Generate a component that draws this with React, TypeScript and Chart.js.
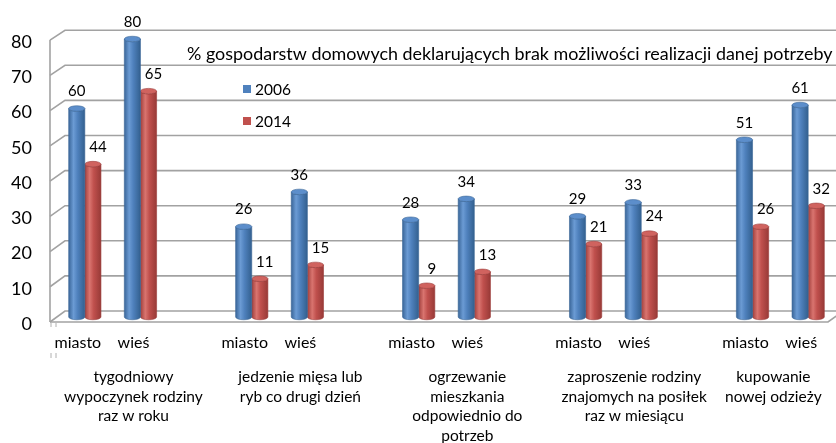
import React, { useEffect, useRef } from "react";
import { Chart, registerables } from "chart.js";

Chart.register(...registerables);

const subLabels = ["miasto", "wieś", "", "miasto", "wieś", "", "miasto", "wieś", "", "miasto", "wieś", "", "miasto", "wieś"];
const groupLabels: string[][] = [
  ["tygodniowy", "wypoczynek rodziny", "raz w roku"],
  ["jedzenie mięsa lub", "ryb co drugi dzień"],
  ["ogrzewanie", "mieszkania", "odpowiednio do", "potrzeb"],
  ["zaproszenie rodziny", "znajomych na posiłek", "raz w miesiącu"],
  ["kupowanie", "nowej odzieży"],
];
const series2006 = [60, 80, null, 26, 36, null, 28, 34, null, 29, 33, null, 51, 61];
const series2014 = [44, 65, null, 11, 15, null, 9, 13, null, 21, 24, null, 26, 32];
const yTicks = [0, 10, 20, 30, 40, 50, 60, 70, 80];
const titleText = "% gospodarstw domowych deklarujących brak możliwości realizacji danej potrzeby";

const FONT = "Lato, 'Open Sans', sans-serif";

const palettes = [
  { edge: "#3a6699", light: "#6b9bd4", mid: "#4f81bd", dark: "#33608f", top: "#5c8ecb", stroke: "#3a6697" },
  { edge: "#a03f3c", light: "#d9746f", mid: "#c0504d", dark: "#983a37", top: "#d0635f", stroke: "#9c3d3a" },
];

function drawCylinder(ctx: CanvasRenderingContext2D, x: number, top: number, base: number, w: number, pal: any) {
  const l = x - w / 2;
  const r = x + w / 2;
  const rx = w / 2;
  const ry = Math.max(2, w * 0.17);
  const g = ctx.createLinearGradient(l, 0, r, 0);
  g.addColorStop(0, pal.edge);
  g.addColorStop(0.3, pal.light);
  g.addColorStop(0.55, pal.mid);
  g.addColorStop(1, pal.dark);
  ctx.save();
  ctx.beginPath();
  ctx.moveTo(l, top);
  ctx.lineTo(l, base);
  ctx.ellipse(x, base, rx, ry, 0, Math.PI, 0, true);
  ctx.lineTo(r, top);
  ctx.ellipse(x, top, rx, ry, 0, 0, Math.PI, false);
  ctx.closePath();
  ctx.fillStyle = g;
  ctx.fill();
  ctx.lineWidth = 0.6;
  ctx.strokeStyle = pal.stroke;
  ctx.stroke();
  ctx.beginPath();
  ctx.ellipse(x, top, rx, ry, 0, 0, Math.PI * 2);
  ctx.fillStyle = pal.top;
  ctx.fill();
  ctx.stroke();
  ctx.restore();
}

const decorPlugin = {
  id: "decor",
  beforeDraw(chart: any) {
    const ctx = chart.ctx as CanvasRenderingContext2D;
    ctx.save();
    ctx.fillStyle = "#ffffff";
    ctx.fillRect(0, 0, chart.width, chart.height);
    ctx.restore();
  },
  beforeDatasetsDraw(chart: any) {
    const ctx = chart.ctx as CanvasRenderingContext2D;
    const area = chart.chartArea;
    const ys = chart.scales.y;
    const xs = chart.scales.x;
    const bottom = area.bottom;
    const yF = (v: number) => bottom + 5 - (bottom - ys.getPixelForValue(v)) * 1.014;
    const yB = (v: number) => bottom - 6 - (bottom - ys.getPixelForValue(v)) * 1.01;
    const xF = area.left - 7;
    const xB = area.left + 8;
    ctx.save();
    ctx.strokeStyle = "#a2a2a2";
    ctx.lineWidth = 1.6;
    // back wall gridlines + side wall slants
    yTicks.forEach((v) => {
      ctx.beginPath();
      ctx.moveTo(xF, yF(v));
      ctx.lineTo(xB, yB(v));
      ctx.lineTo(area.right + 10, yB(v));
      ctx.stroke();
    });
    // left axis line
    ctx.beginPath();
    ctx.moveTo(xF, yF(yTicks[yTicks.length - 1]));
    ctx.lineTo(xF, yF(0));
    ctx.stroke();
    // floor front edge
    ctx.beginPath();
    ctx.moveTo(xF, yF(0));
    ctx.lineTo(area.right - 8, yF(0));
    ctx.lineTo(area.right + 7, yB(0));
    ctx.stroke();
    // small category ticks
    ctx.lineWidth = 1;
    ctx.strokeStyle = "#b0b0b0";
    [xF + 1, xF + 6].forEach((tx) => {
      ctx.beginPath();
      ctx.moveTo(tx, yF(0) + 1);
      ctx.lineTo(tx, yF(0) + 5);
      ctx.moveTo(tx, 353);
      ctx.lineTo(tx, 358);
      ctx.stroke();
    });

    // y tick labels
    ctx.fillStyle = "#000";
    ctx.font = `18px ${FONT}`;
    ctx.textAlign = "right";
    ctx.textBaseline = "middle";
    yTicks.forEach((v) => {
      ctx.fillText(String(v), 32, yF(v) + 2);
    });

    // sub category labels
    ctx.font = `16px ${FONT}`;
    ctx.textAlign = "center";
    subLabels.forEach((lab, i) => {
      if (!lab) return;
      ctx.fillText(lab, xs.getPixelForValue(i) - 7, 343);
    });
    // group labels
    ctx.font = `15.5px ${FONT}`;
    groupLabels.forEach((lines, g) => {
      const first = g * 3;
      const last = Math.min(g * 3 + 2, subLabels.length - 1);
      const cx = (xs.getPixelForValue(first) + xs.getPixelForValue(last)) / 2 - 7;
      lines.forEach((line, k) => {
        ctx.fillText(line, cx, 377 + k * 19.7);
      });
    });

    // title
    ctx.font = `16px ${FONT}`;
    const tw = ctx.measureText(titleText).width;
    const fs = (16 * 646) / tw;
    ctx.font = `${fs.toFixed(2)}px ${FONT}`;
    ctx.textAlign = "left";
    ctx.fillText(titleText, 187, 54);

    // legend
    ctx.font = `15.5px ${FONT}`;
    chart.data.datasets.forEach((ds: any, i: number) => {
      ctx.fillStyle = ds.backgroundColor;
      ctx.fillRect(243, 85 + i * 32, 8, 8);
      ctx.fillStyle = "#000";
      ctx.fillText(ds.label, 255, 90 + i * 32);
    });
    ctx.restore();
  },
  beforeDatasetDraw(chart: any, args: any) {
    const ctx = chart.ctx as CanvasRenderingContext2D;
    const meta = chart.getDatasetMeta(args.index);
    meta.data.forEach((el: any, i: number) => {
      const v = chart.data.datasets[args.index].data[i];
      if (v === null || v === undefined) return;
      const p = el.getProps(["x", "y", "base", "width"], true);
      drawCylinder(ctx, p.x, p.y, p.base, p.width, palettes[args.index]);
    });
    return false;
  },
  afterDatasetsDraw(chart: any) {
    const ctx = chart.ctx as CanvasRenderingContext2D;
    ctx.save();
    ctx.font = `15px ${FONT}`;
    ctx.fillStyle = "#000";
    ctx.textAlign = "center";
    ctx.textBaseline = "middle";
    chart.data.datasets.forEach((ds: any, di: number) => {
      const meta = chart.getDatasetMeta(di);
      meta.data.forEach((el: any, i: number) => {
        const v = ds.data[i];
        if (v === null || v === undefined) return;
        const p = el.getProps(["x", "y"], true);
        ctx.fillText(String(v), p.x + (di === 1 ? 5 : 0), p.y - 17);
      });
    });
    ctx.restore();
  },
};

export default function App() {
  const ref = useRef<HTMLCanvasElement | null>(null);
  useEffect(() => {
    if (!ref.current) return;
    const chart = new Chart(ref.current, {
      type: "bar",
      data: {
        labels: subLabels,
        datasets: [
          { label: "2006", data: series2006, backgroundColor: "#4f81bd", categoryPercentage: 0.58, barPercentage: 1 } as any,
          { label: "2014", data: series2014, backgroundColor: "#c0504d", categoryPercentage: 0.58, barPercentage: 1 } as any,
        ],
      },
      options: {
        responsive: false,
        animation: false,
        layout: { padding: { left: 57, right: 0, top: 39, bottom: 126 } },
        scales: {
          x: { display: false, offset: true, grid: { display: false } },
          y: { display: false, min: 0, max: 80, grid: { display: false } },
        },
        plugins: { legend: { display: false }, tooltip: { enabled: false } },
      },
      plugins: [decorPlugin],
    });
    return () => chart.destroy();
  }, []);
  return (
    <div style={{ position: "fixed", left: 0, top: 0, width: 836, height: 443, background: "#fff" }}>
      <canvas ref={ref} width={836} height={443} style={{ display: "block" }} />
    </div>
  );
}
